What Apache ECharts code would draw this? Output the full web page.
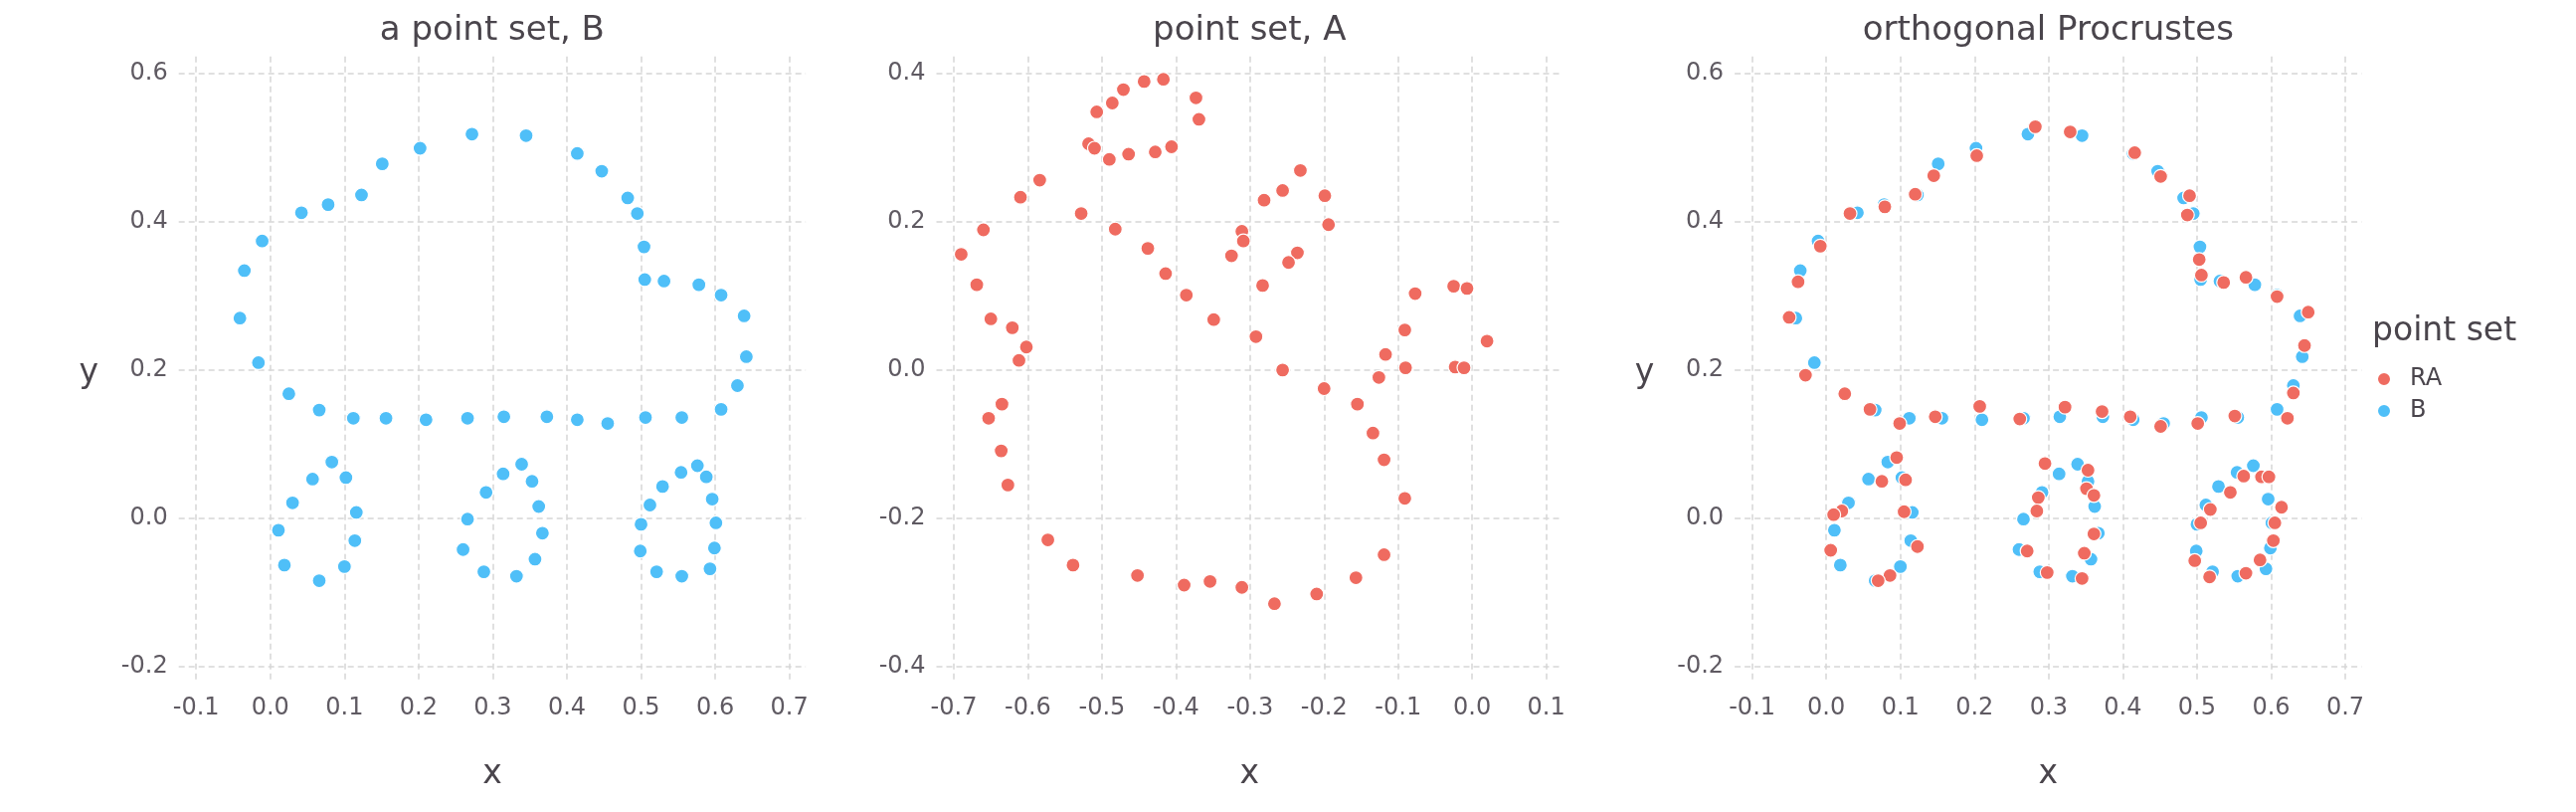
<!DOCTYPE html>
<html><head><meta charset="utf-8">
<script src="https://cdn.jsdelivr.net/npm/echarts@6/dist/echarts.min.js"></script>
<style>html,body{margin:0;padding:0;background:#fff}#c{width:2590px;height:816px}</style>
</head><body><div id="c"></div>
<script>
// point set B (panel 1, and blue in panel 3)
const bX = [-0.041,-0.035,-0.011,-0.016,0.042,0.078,0.123,0.151,0.202,0.272,0.345,0.414,0.447,0.482,0.495,0.504,0.505,0.531,0.578,0.608,0.639,0.642,0.630,0.608,
  0.025,0.066,0.112,0.156,0.210,0.266,0.315,0.373,0.414,0.455,0.506,0.555,
  0.083,0.057,0.102,0.030,0.116,0.011,0.114,0.019,0.100,0.066,
  0.339,0.314,0.353,0.291,0.362,0.266,0.367,0.260,0.357,0.288,0.332,
  0.576,0.554,0.588,0.529,0.596,0.512,0.601,0.500,0.599,0.499,0.521,0.593,0.555];
const bY = [0.270,0.334,0.374,0.210,0.412,0.423,0.436,0.478,0.499,0.518,0.516,0.492,0.468,0.432,0.411,0.366,0.322,0.320,0.315,0.301,0.273,0.218,0.179,0.147,
  0.168,0.146,0.135,0.135,0.133,0.135,0.137,0.137,0.133,0.128,0.136,0.136,
  0.076,0.053,0.055,0.021,0.008,-0.016,-0.030,-0.063,-0.065,-0.084,
  0.073,0.060,0.050,0.035,0.016,-0.001,-0.020,-0.042,-0.055,-0.072,-0.078,
  0.071,0.062,0.056,0.043,0.026,0.018,-0.006,-0.008,-0.040,-0.044,-0.072,-0.068,-0.078];
// point set A (panel 2)
const aX = [-0.417,-0.443,-0.471,-0.486,-0.507,-0.373,-0.369,-0.518,-0.510,-0.490,
  -0.464,-0.428,-0.406,-0.584,-0.610,-0.528,-0.660,-0.482,-0.690,-0.438,
  -0.669,-0.414,-0.386,-0.650,-0.621,-0.602,-0.612,-0.349,-0.292,-0.232,
  -0.256,-0.281,-0.199,-0.194,-0.311,-0.309,-0.325,-0.236,-0.248,-0.283,
  -0.256,-0.200,-0.155,-0.126,-0.117,-0.091,-0.077,-0.090,-0.025,-0.007,
  -0.023,-0.011,0.020,-0.635,-0.653,-0.636,-0.627,-0.573,-0.539,-0.452,
  -0.389,-0.354,-0.311,-0.267,-0.210,-0.157,-0.119,-0.091,-0.119,-0.134];
const aY = [0.392,0.389,0.378,0.360,0.348,0.367,0.338,0.305,0.299,0.284,
  0.291,0.294,0.301,0.256,0.233,0.211,0.189,0.190,0.156,0.164,
  0.115,0.130,0.101,0.069,0.057,0.031,0.013,0.068,0.045,0.269,
  0.242,0.229,0.235,0.196,0.187,0.174,0.154,0.158,0.145,0.114,
  0.000,-0.025,-0.046,-0.010,0.021,0.054,0.103,0.003,0.113,0.110,
  0.004,0.003,0.039,-0.046,-0.065,-0.109,-0.155,-0.229,-0.263,-0.277,
  -0.290,-0.285,-0.293,-0.315,-0.302,-0.280,-0.249,-0.173,-0.121,-0.085];
// rotated A (RA, red in panel 3)
const raX = [0.282,0.329,0.203,0.416,0.451,0.145,0.120,0.079,0.032,0.490,0.487,-0.008,-0.038,-0.050,-0.028,0.503,0.506,0.536,0.566,0.608,0.650,0.645,0.630,0.025,
  0.059,0.099,0.147,0.207,0.261,0.322,0.372,0.410,0.451,0.501,0.551,0.622,
  0.095,0.075,0.107,0.021,0.010,0.105,0.006,0.123,0.086,0.070,
  0.295,0.353,0.351,0.361,0.286,0.284,0.361,0.271,0.348,0.298,0.345,
  0.563,0.587,0.597,0.545,0.614,0.518,0.505,0.605,0.603,0.497,0.585,0.566,0.517];
const raY = [0.528,0.521,0.489,0.493,0.461,0.462,0.437,0.420,0.411,0.435,0.409,0.367,0.319,0.271,0.193,0.349,0.328,0.318,0.325,0.299,0.278,0.233,0.169,0.168,
  0.147,0.128,0.137,0.151,0.134,0.150,0.144,0.137,0.124,0.128,0.138,0.135,
  0.082,0.050,0.052,0.010,0.005,0.009,-0.043,-0.038,-0.077,-0.084,
  0.074,0.065,0.040,0.031,0.028,0.010,-0.021,-0.044,-0.047,-0.073,-0.081,
  0.057,0.056,0.056,0.035,0.015,0.012,-0.006,-0.006,-0.030,-0.057,-0.056,-0.074,-0.079];

const xTicksB = [-0.1,0,0.1,0.2,0.3,0.4,0.5,0.6,0.7];
const yTicksB = [-0.2,0,0.2,0.4,0.6];
const xTicksA = [-0.7,-0.6,-0.5,-0.4,-0.3,-0.2,-0.1,0,0.1];
const yTicksA = [-0.4,-0.2,0,0.2,0.4];
const titles = ['a point set, B','point set, A','orthogonal Procrustes'];
const legendTitle = 'point set';
const legendNames = ['RA','B'];

const RED = '#ef6b60', BLUE = '#4fbff8';
const FONT = 'DejaVu Sans';
const TXT = '#4a454c', TICK = '#5f5a62';
const zip = (xs, ys) => xs.map((x, i) => [x, ys[i]]);

const panels = [
  {left:179.7, width:630.4, xmin:-0.1235, xmax:0.7221, ymin:-0.2201, ymax:0.6228, xt:xTicksB, yt:yTicksB, ylab:true},
  {left:941.5, width:629.6, xmin:-0.7235, xmax:0.1221, ymin:-0.4201, ymax:0.4228, xt:xTicksA, yt:yTicksA, ylab:false},
  {left:1744.1, width:630.4, xmin:-0.1235, xmax:0.7221, ymin:-0.2201, ymax:0.6228, xt:xTicksB, yt:yTicksB, ylab:true}
];
const TOP = 56.7, H = 628.3;
const split = {show:true, lineStyle:{type:[6,4], color:'#d6d6d6', width:1.5}};
const lab = {color:TICK, fontSize:24, fontFamily:FONT};

const grid = panels.map(p => ({left:p.left, top:TOP, width:p.width, height:H, containLabel:false, outerBoundsMode:'none'}));
const xAxis = panels.map((p, i) => ({type:'value', gridIndex:i, min:p.xmin, max:p.xmax,
  axisLine:{show:false}, axisTick:{show:false, customValues:p.xt},
  axisLabel:Object.assign({customValues:p.xt, margin:15, formatter:v => v.toFixed(1)}, lab),
  splitLine:split}));
const yAxis = panels.map((p, i) => ({type:'value', gridIndex:i, min:p.ymin, max:p.ymax,
  axisLine:{show:false}, axisTick:{show:false, customValues:p.yt},
  axisLabel:Object.assign({customValues:p.yt, margin:11, formatter:v => v.toFixed(1)}, lab),
  splitLine:split}));

const sty = c => ({color:c, borderColor:'#ffffff', borderWidth:1.2, opacity:1});
const mk = (name, idx, data, c) => ({type:'scatter', name, xAxisIndex:idx, yAxisIndex:idx, data,
  symbol:'circle', symbolSize:14, itemStyle:sty(c), emphasis:{disabled:true}, silent:true});
const series = [
  mk('B', 0, zip(bX, bY), BLUE),
  mk('A', 1, zip(aX, aY), RED),
  mk('B', 2, zip(bX, bY), BLUE),
  mk('RA', 2, zip(raX, raY), RED)
];

const txt = (text, x, y, size, align) => ({type:'text', x, y, silent:true,
  style:{text, fontSize:size, fontFamily:FONT, fill:TXT, align:align || 'center', verticalAlign:'middle'}});
const graphic = [];
panels.forEach((p, i) => {
  const cx = p.left + p.width / 2;
  graphic.push(txt(titles[i], cx, 31, 34));
  graphic.push(txt('x', cx, 778, 33));
  if (p.ylab) graphic.push(txt('y', p.left - 90.5, 375, 33));
});
graphic.push(txt(legendTitle, 2385, 333, 33, 'left'));

const chart = echarts.init(document.getElementById('c'), null, {renderer:'canvas'});
chart.setOption({
  animation:false,
  backgroundColor:'#ffffff',
  grid, xAxis, yAxis, series, graphic,
  legend:{data:legendNames, orient:'vertical', left:2384, top:364, itemWidth:14, itemHeight:14, itemGap:8,
    icon:'circle', selectedMode:false,
    textStyle:{fontSize:24, fontFamily:FONT, color:TXT, padding:[0,0,0,14]}}
});
</script></body></html>
